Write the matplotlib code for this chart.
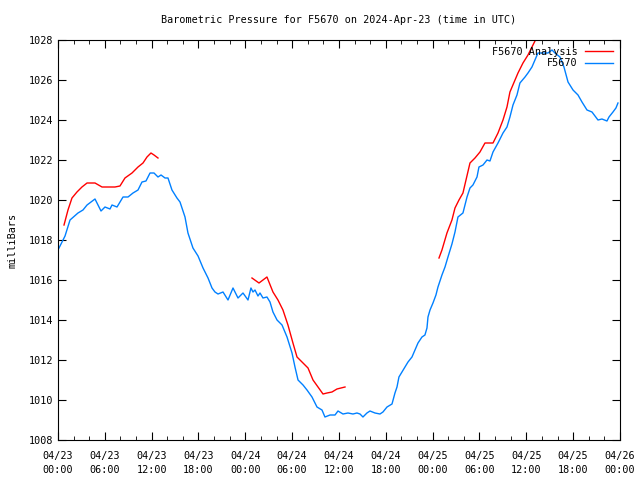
import numpy as np
import matplotlib
matplotlib.use("Agg")
import matplotlib.pyplot as plt
import matplotlib.dates as mdates
from datetime import datetime, timedelta

plt.rcParams['font.family'] = ['DejaVu Sans Mono']
plt.rcParams['font.size'] = 7.3

start = datetime(2024, 4, 23, 0, 0)

# station readings (hours after start, mbar)
obs_hours = [0.0, 0.9, 1.54, 2.56, 3.2, 3.72, 4.74, 5.51, 6.02, 6.66, 6.92, 7.56, 8.33, 8.97,
             9.61, 10.25, 10.76, 11.27, 11.79, 12.3, 12.81, 13.2, 13.71, 14.09, 14.6, 15.24,
             15.63, 16.27, 16.65, 17.29, 17.94, 18.58, 19.22, 19.73, 20.11, 20.5, 21.14, 21.78,
             22.42, 23.06, 23.7, 24.34, 24.72, 24.98, 25.24, 25.62, 25.88, 26.26, 26.77, 27.16,
             27.54, 28.06, 28.7, 29.34, 29.98, 30.36, 30.75, 31.39, 31.9, 32.54, 33.18, 33.82,
             34.2, 34.85, 35.49, 35.87, 36.51, 37.15, 37.79, 38.3, 38.69, 39.07, 39.58, 39.97,
             40.61, 41.25, 41.63, 42.15, 42.79, 43.17, 43.43, 43.68, 44.07, 44.45, 44.84, 45.35,
             45.73, 46.12, 46.63, 47.01, 47.27, 47.4, 47.66, 48.04, 48.42, 48.68, 49.19, 49.58,
             49.96, 50.47, 50.86, 51.24, 51.88, 52.4, 52.78, 53.16, 53.68, 53.93, 54.45, 54.96,
             55.34, 55.73, 56.37, 57.01, 57.52, 57.9, 58.29, 58.8, 59.18, 59.83, 60.21, 60.72,
             61.11, 61.49, 62.13, 62.77, 63.29, 63.67, 64.31, 64.82, 65.34, 65.98, 66.62, 67.13,
             67.77, 68.41, 69.18, 69.69, 70.33, 70.59, 71.1, 71.48, 71.74]
obs_mbar = [1017.5, 1018.2, 1019.0, 1019.35, 1019.5, 1019.75, 1020.05, 1019.45, 1019.65, 1019.55,
            1019.75, 1019.65, 1020.15, 1020.15, 1020.35, 1020.5, 1020.9, 1020.95, 1021.35, 1021.35,
            1021.15, 1021.25, 1021.1, 1021.1, 1020.5, 1020.1, 1019.9, 1019.15, 1018.35, 1017.6,
            1017.2, 1016.6, 1016.1, 1015.6, 1015.4, 1015.3, 1015.4, 1015.0, 1015.6, 1015.1,
            1015.35, 1015.0, 1015.6, 1015.4, 1015.5, 1015.2, 1015.35, 1015.1, 1015.15, 1014.9,
            1014.4, 1014.0, 1013.75, 1013.15, 1012.35, 1011.65, 1011.0, 1010.75, 1010.5, 1010.15,
            1009.65, 1009.5, 1009.15, 1009.25, 1009.25, 1009.45, 1009.3, 1009.35, 1009.3, 1009.35,
            1009.3, 1009.15, 1009.35, 1009.45, 1009.35, 1009.3, 1009.4, 1009.65, 1009.8, 1010.35,
            1010.65, 1011.15, 1011.4, 1011.65, 1011.9, 1012.15, 1012.5, 1012.85, 1013.15, 1013.25,
            1013.6, 1014.15, 1014.5, 1014.85, 1015.25, 1015.65, 1016.25, 1016.65, 1017.15, 1017.8,
            1018.4, 1019.15, 1019.35, 1020.15, 1020.6, 1020.75, 1021.15, 1021.65, 1021.75, 1022.0,
            1021.95, 1022.4, 1022.85, 1023.35, 1023.65, 1024.15, 1024.75, 1025.25, 1025.85, 1026.15,
            1026.35, 1026.65, 1027.0, 1027.35, 1027.35, 1027.35, 1027.5, 1027.35, 1027.15, 1026.65,
            1025.9, 1025.5, 1025.25, 1024.9, 1024.5, 1024.4, 1024.0, 1024.05, 1023.95, 1024.15,
            1024.4, 1024.6, 1024.85]

# analysis (three runs, separated by gaps)
ana_hours = [0.77, 1.28, 1.79, 2.43, 3.07, 3.72, 4.74, 5.64, 6.66, 7.3, 7.94, 8.58, 9.48, 10.25,
             10.89, 11.4, 11.91, 12.3, 12.81, 13.0,
             24.85, 25.75, 26.77, 27.54, 28.18, 28.82, 29.46, 30.1, 30.62, 31.39, 32.03, 32.67,
             33.31, 33.95, 34.46, 35.1, 35.74, 36.77, 37.0,
             48.81, 49.19, 49.83, 50.47, 50.86, 51.37, 51.88, 52.27, 52.78, 53.42, 54.06, 54.7,
             55.73, 56.37, 57.01, 57.52, 57.9, 58.55, 58.93, 59.57, 60.21, 60.85, 61.3]
ana_mbar = [1018.75, 1019.5, 1020.1, 1020.4, 1020.65, 1020.85, 1020.85, 1020.65, 1020.65, 1020.65,
            1020.7, 1021.1, 1021.35, 1021.65, 1021.85, 1022.15, 1022.35, 1022.25, 1022.1, np.nan,
            1016.1, 1015.85, 1016.15, 1015.4, 1015.0, 1014.5, 1013.75, 1012.85, 1012.15, 1011.85,
            1011.6, 1011.0, 1010.65, 1010.3, 1010.35, 1010.4, 1010.55, 1010.65, np.nan,
            1017.1, 1017.5, 1018.35, 1019.0, 1019.6, 1020.0, 1020.35, 1021.0, 1021.85, 1022.1,
            1022.4, 1022.85, 1022.85, 1023.35, 1024.0, 1024.65, 1025.4, 1026.0, 1026.35, 1026.85,
            1027.25, 1027.75, 1028.1]

obs_t = [start + timedelta(hours=h) for h in obs_hours]
ana_t = [start + timedelta(hours=h) for h in ana_hours]

fig = plt.figure(figsize=(6.4, 4.8), dpi=100)
ax = fig.add_axes([58/640, 40/480, 562/640, 400/480])

ax.plot(ana_t, ana_mbar, color='#ff0000', lw=1, label='F5670 Analysis')
ax.plot(obs_t, obs_mbar, color='#0080ff', lw=1, label='F5670')

ax.set_xlim(start, start + timedelta(hours=72))
ax.set_ylim(1008, 1028)
ax.set_yticks(np.arange(1008, 1029, 2))
ax.xaxis.set_major_locator(mdates.HourLocator(byhour=[0, 6, 12, 18]))
ax.xaxis.set_minor_locator(mdates.HourLocator(interval=2))
ax.xaxis.set_major_formatter(mdates.DateFormatter('%m/%d\n%H:%M'))
ax.tick_params(which='both', direction='in', top=True, right=True)
ax.tick_params(which='major', length=6)
ax.tick_params(which='minor', length=3)
ax.tick_params(axis='x', pad=8)

ax.set_title('Barometric Pressure for F5670 on 2024-Apr-23 (time in UTC)', fontsize=7.3, pad=12)
ax.set_ylabel('milliBars', labelpad=8)

ax.legend(loc='upper right', markerfirst=False, frameon=False, handlelength=2.8,
          borderaxespad=0.25, labelspacing=0.15, handletextpad=0.7)

fig.canvas.draw()
for lab in ax.get_xticklabels():
    lab.set_linespacing(1.45)

plt.savefig('out.png')
